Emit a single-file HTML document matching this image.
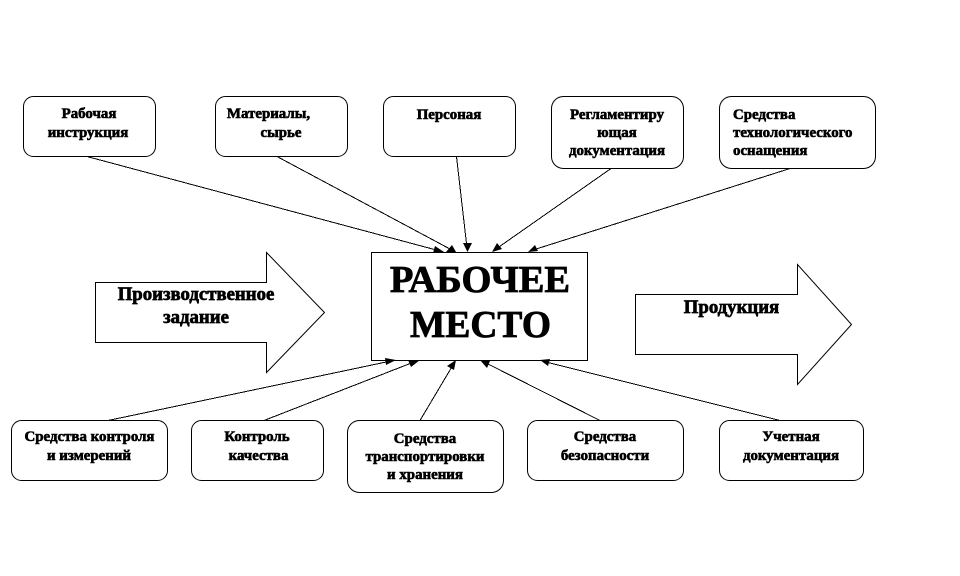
<!DOCTYPE html>
<html><head><meta charset="utf-8">
<style>
html,body{margin:0;padding:0;background:#fff}
svg{display:block}
text{font-family:"Liberation Serif","Noto Serif CJK SC",serif;font-weight:bold;fill:#000;text-anchor:middle}
.s{font-size:14.9px;stroke:#000;stroke-width:.6px}
.st{text-anchor:start}
.m{font-size:18.8px;stroke:#000;stroke-width:.7px}
.b{font-size:38.5px;stroke:#000;stroke-width:.8px}
.n{fill:#fff;stroke:#000;stroke-width:1}
.l{stroke:#000;stroke-width:1;fill:none;shape-rendering:crispEdges}
</style></head><body>
<svg width="960" height="576" viewBox="0 0 960 576" xmlns="http://www.w3.org/2000/svg">
<rect width="960" height="576" fill="#fff"/>
<rect class="n" x="23.5" y="96.5" width="132" height="60" rx="10"/>
<rect class="n" x="215.5" y="96.5" width="132" height="60" rx="10"/>
<rect class="n" x="383.5" y="96.5" width="132" height="60" rx="10"/>
<rect class="n" x="551.5" y="96.5" width="132" height="72" rx="12"/>
<rect class="n" x="719.5" y="96.5" width="156" height="72" rx="12"/>
<rect class="n" x="11.5" y="420.5" width="156" height="60" rx="10"/>
<rect class="n" x="191.5" y="420.5" width="132" height="60" rx="10"/>
<rect class="n" x="347.5" y="420.5" width="156" height="72" rx="12"/>
<rect class="n" x="527.5" y="420.5" width="156" height="60" rx="10"/>
<rect class="n" x="719.5" y="420.5" width="144" height="60" rx="10"/>
<rect class="n" x="371.5" y="252.5" width="216" height="108"/>
<polygon class="n" points="95.5,282.5 266.5,282.5 266.5,252.5 324.5,312.5 266.5,372.5 266.5,342.5 95.5,342.5"/>
<polygon class="n" points="635.5,294.5 797.5,294.5 797.5,264.5 851.5,324.5 797.5,384.5 797.5,354.5 635.5,354.5"/>
<g class="l">
<line x1="87" y1="156.5" x2="440" y2="251"/>
<line x1="277" y1="156.5" x2="450" y2="249"/>
<line x1="456.5" y1="156.5" x2="467" y2="248"/>
<line x1="611" y1="168.5" x2="496" y2="249"/>
<line x1="790" y1="168.5" x2="533" y2="250"/>
<line x1="108" y1="420.5" x2="391" y2="361"/>
<line x1="264" y1="420.5" x2="414" y2="362"/>
<line x1="420" y1="420.5" x2="453" y2="365"/>
<line x1="600" y1="420.5" x2="486" y2="363"/>
<line x1="780" y1="420.5" x2="546" y2="362"/>
</g>
<g fill="#000">
<polygon points="444,252 433,253 435,246"/>
<polygon points="456,252 446,252 452,245"/>
<polygon points="467.5,252 463,243 472,243"/>
<polygon points="492,252 497,243 502,249"/>
<polygon points="528,252 535,245 538,251"/>
<polygon points="396,360 386,365 385,358"/>
<polygon points="420,360 411,367 408,360"/>
<polygon points="456,360 454,370 447,366"/>
<polygon points="480,360 490,361 487,368"/>
<polygon points="540,360 550,359 548,366"/>
</g>
<text class="s" x="89" y="118">Рабочая</text>
<text class="s" x="88" y="137">инструкция</text>
<text class="s" x="268.5" y="118">Материалы,</text>
<text class="s" x="281" y="137">сырье</text>
<text class="s" x="449" y="119">Персоная</text>
<text class="s" x="617" y="119">Регламентиру</text>
<text class="s" x="617" y="137">ющая</text>
<text class="s" x="617" y="155">документация</text>
<text class="s st" x="733" y="119">Средства</text>
<text class="s st" x="733" y="137">технологического</text>
<text class="s st" x="733" y="155">оснащения</text>
<text class="s" x="89.5" y="441">Средства контроля</text>
<text class="s" x="89" y="460">и измерений</text>
<text class="s" x="257" y="441">Контроль</text>
<text class="s" x="258.5" y="460">качества</text>
<text class="s" x="425" y="443">Средства</text>
<text class="s" x="425" y="461">транспортировки</text>
<text class="s" x="425" y="479">и хранения</text>
<text class="s" x="605" y="441">Средства</text>
<text class="s" x="605" y="460">безопасности</text>
<text class="s" x="791" y="441">Учетная</text>
<text class="s" x="791" y="460">документация</text>
<text class="m" x="196" y="300">Производственное</text>
<text class="m" x="196" y="323">задание</text>
<text class="m" x="731.5" y="313">Продукция</text>
<text class="b" x="480" y="292">РАБОЧЕЕ</text>
<text class="b" x="480.5" y="337" textLength="141" lengthAdjust="spacingAndGlyphs">МЕСТО</text>
</svg>
</body></html>
